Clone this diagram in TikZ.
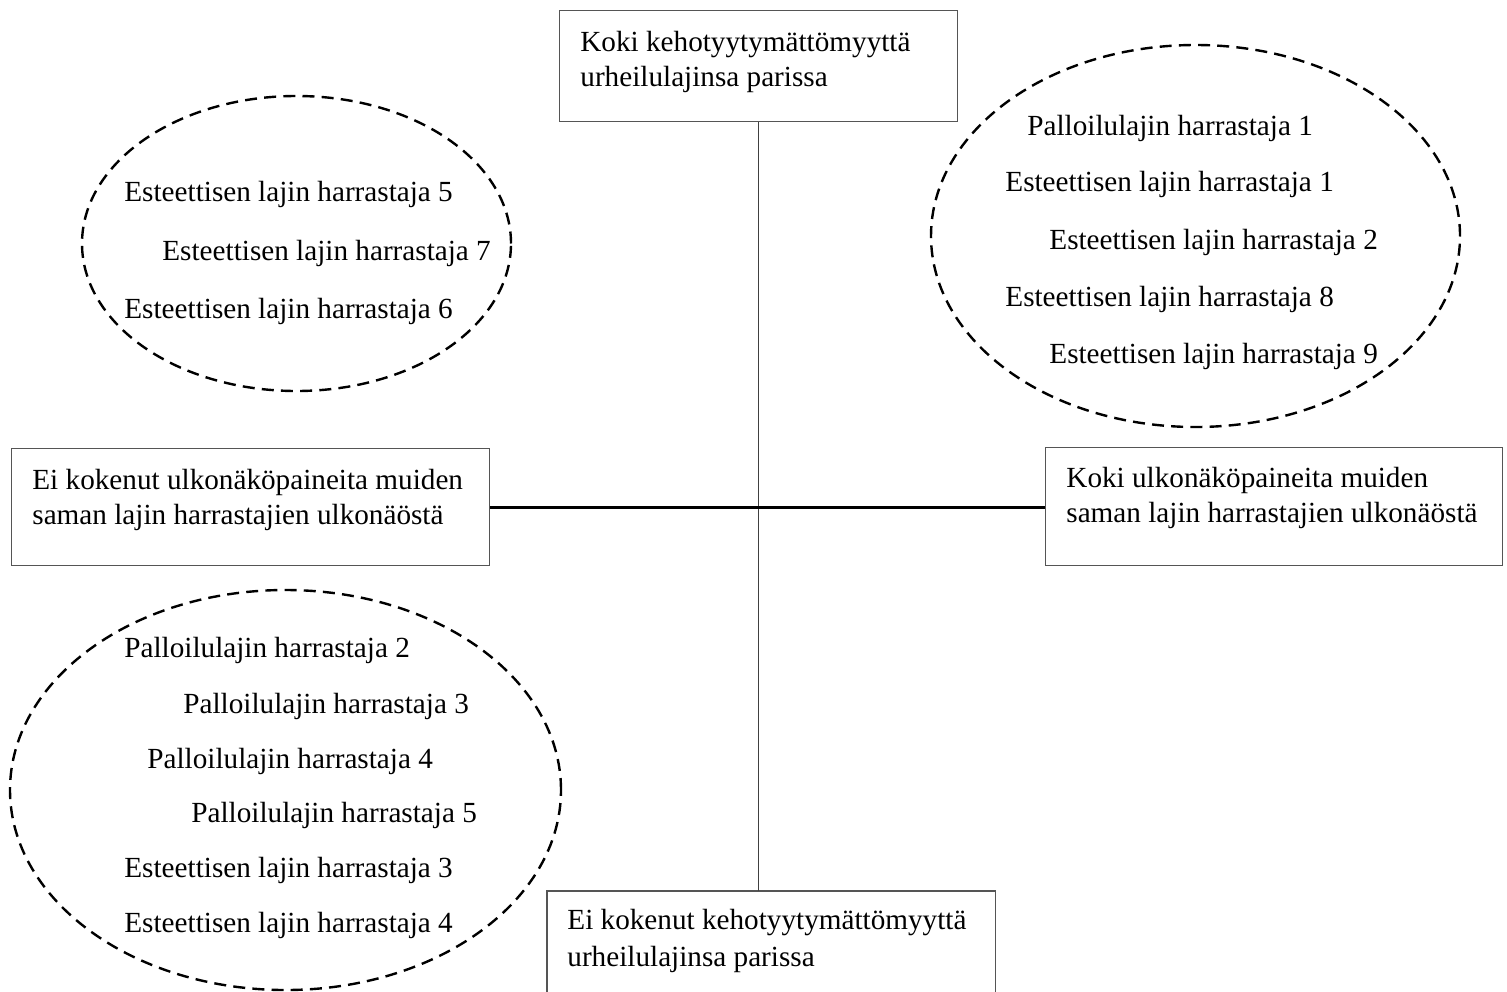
\documentclass[tikz,border=0pt]{standalone}
\usepackage{fontspec}
\setmainfont{Liberation Serif}
\usetikzlibrary{shapes.geometric}
\definecolor{boxgray}{HTML}{555555}
\tikzset{
  lbl/.style={anchor=west, inner sep=0pt, font=\fontsize{14.6}{17}\selectfont},
  boxtxt/.style={anchor=north west, inner sep=0pt, align=left, font=\fontsize{14.6}{17.2}\selectfont},
  frame/.style={draw=boxgray, line width=0.6pt},
  grp/.style={draw=black, line width=1.2pt, dash pattern=on 6pt off 3.6pt, ellipse, inner sep=0pt},
}
\begin{document}
\begin{tikzpicture}[x=0.5pt,y=-0.5pt]
\useasboundingbox (0,0) rectangle (1507,991);
% boxes
\node[frame, anchor=north west, minimum width=199pt, minimum height=55.5pt, inner sep=0pt] (top) at (559,10) {};
\node[frame, anchor=north west, minimum width=239pt, minimum height=58.5pt, inner sep=0pt] (left) at (11,448) {};
\node[frame, anchor=north west, minimum width=228.5pt, minimum height=59pt, inner sep=0pt] (right) at (1045,447) {};
\node[anchor=north west, minimum width=224pt, minimum height=55pt, inner sep=0pt] (bot) at (547,891) {};
\draw[frame] (bot.south west) -- (bot.north west) -- (bot.north east) -- (bot.south east);
% box texts
\node[boxtxt] (toptxt) at (580,31) {Koki kehotyytymättömyyttä\\urheilulajinsa parissa};
\node[boxtxt] (lefttxt) at (32,469) {Ei kokenut ulkonäköpaineita muiden\\saman lajin harrastajien ulkonäöstä};
\node[boxtxt] (righttxt) at (1066,467) {Koki ulkonäköpaineita muiden\\saman lajin harrastajien ulkonäöstä};
\node[boxtxt, font=\fontsize{14.6}{18.5}\selectfont] (bottxt) at (567,909) {Ei kokenut kehotyytymättömyyttä\\urheilulajinsa parissa};
% axes
\draw[draw=black!75, line width=0.7pt] (top.south) -- (top.south |- bot.north);
\draw[line width=1.4pt] (left.east) -- (left.east -| right.west);
% ellipses
\node[grp, minimum width=214.5pt, minimum height=147.5pt] (tl) at (296.5,243.5) {};
\node[grp, minimum width=264.5pt, minimum height=191pt] (tr) at (1195.5,236) {};
\node[grp, minimum width=275.5pt, minimum height=200pt] (bl) at (285.5,790) {};
% top-left group
\node[lbl] (tl1) at (124,194) {Esteettisen lajin harrastaja 5};
\node[lbl] (tl2) at (162,253) {Esteettisen lajin harrastaja 7};
\node[lbl] (tl3) at (124,311) {Esteettisen lajin harrastaja 6};
% top-right group
\node[lbl] (tr1) at (1027,128) {Palloilulajin harrastaja 1};
\node[lbl] (tr2) at (1005,184) {Esteettisen lajin harrastaja 1};
\node[lbl] (tr3) at (1049,242) {Esteettisen lajin harrastaja 2};
\node[lbl] (tr4) at (1005,299) {Esteettisen lajin harrastaja 8};
\node[lbl] (tr5) at (1049,356) {Esteettisen lajin harrastaja 9};
% bottom-left group
\node[lbl] (bl1) at (124,650) {Palloilulajin harrastaja 2};
\node[lbl] (bl2) at (183,706) {Palloilulajin harrastaja 3};
\node[lbl] (bl3) at (147,761) {Palloilulajin harrastaja 4};
\node[lbl] (bl4) at (191,815) {Palloilulajin harrastaja 5};
\node[lbl] (bl5) at (124,870) {Esteettisen lajin harrastaja 3};
\node[lbl] (bl6) at (124,925) {Esteettisen lajin harrastaja 4};
\end{tikzpicture}
\end{document}
